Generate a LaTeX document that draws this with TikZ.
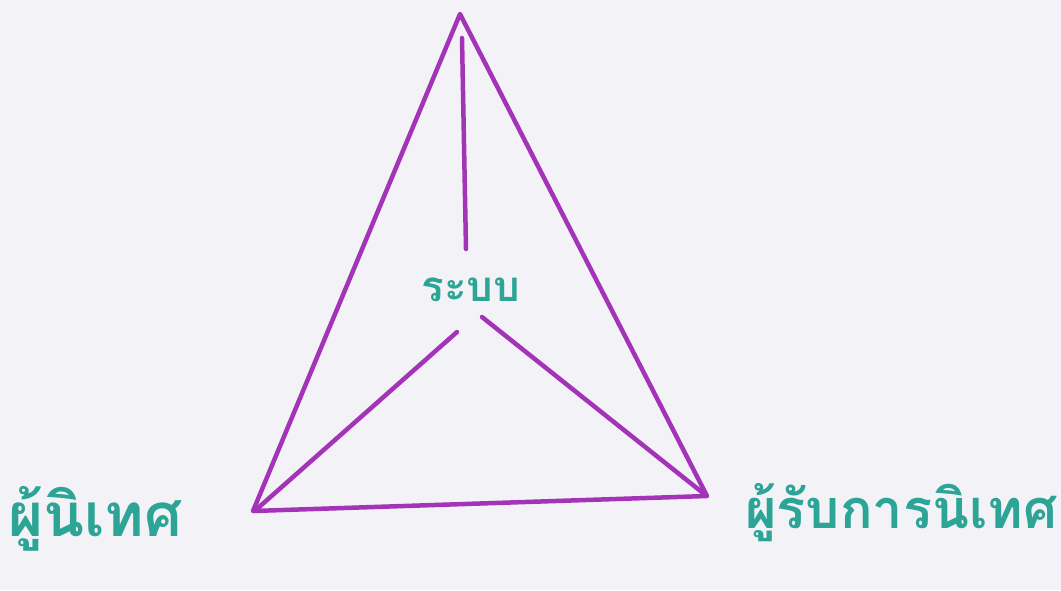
\documentclass[tikz,border=0pt]{standalone}
\usepackage{fontspec}
\newfontfamily\thaifont[Script=Thai]{Loma}
\definecolor{pen}{HTML}{A334B8}
\definecolor{ink}{HTML}{2CA597}
\definecolor{paper}{HTML}{F3F3F7}
\begin{document}
\begin{tikzpicture}[x=1pt,y=-1pt,
  edge/.style={draw=pen,line width=4.5pt,line cap=round,line join=round},
  lbl/.style={text=ink,font=\thaifont\bfseries\fontsize{54}{60}\selectfont,inner sep=0pt}]
\fill[paper] (0,0) rectangle (1061,590);
\useasboundingbox (0,0) rectangle (1061,590);
\coordinate (top) at (460,14);
\coordinate (bl) at (253,511);
\coordinate (br) at (707,496);
\coordinate (c1) at (462,38);
\coordinate (c2) at (466,249);
\coordinate (c3) at (457,332);
\coordinate (c4) at (258,508);
\coordinate (c5) at (482,317);
\coordinate (c6) at (703,493);
\draw[edge] (top) -- (bl) -- (br) -- cycle;
\draw[edge] (c1) -- (c2);
\draw[edge] (c3) -- (c4);
\draw[edge] (c5) -- (c6);
\node[lbl,font=\thaifont\bfseries\fontsize{42}{48}\selectfont] (sys) at (471,290) {ระบบ};
\node[lbl,anchor=base west,font=\thaifont\bfseries\fontsize{60}{66}\selectfont] (sup) at (8,536) {ผู้นิเทศ};
\node[lbl,anchor=base west] (rec) at (745,528) {ผู้รับการนิเทศ};
\end{tikzpicture}
\end{document}
